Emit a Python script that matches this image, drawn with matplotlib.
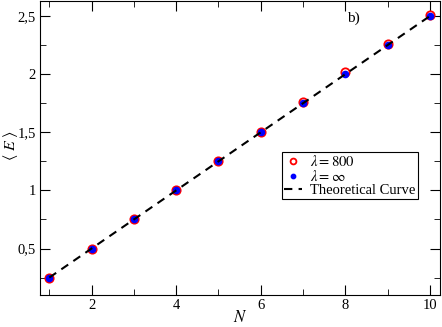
import matplotlib
matplotlib.use("Agg")
import matplotlib.pyplot as plt
import numpy as np
from matplotlib.ticker import MultipleLocator, FuncFormatter

plt.rcParams['font.family'] = ['Liberation Serif', 'DejaVu Serif']
plt.rcParams['mathtext.fontset'] = 'stix'

N = np.arange(1, 11)
E_800 = [0.25, 0.50, 0.75, 1.00, 1.25, 1.50, 1.76, 2.02, 2.26, 2.51]
E_inf = [0.25, 0.50, 0.75, 1.00, 1.25, 1.50, 1.75, 2.00, 2.25, 2.50]
theory = N / 4.0

fig = plt.figure(figsize=(4.42, 3.27), dpi=100)
ax = fig.add_axes([40/442, 1 - 295/327, 400/442, 294/327])

ax.plot(N, E_800, 'o', mfc='none', mec='red', mew=1.3, ms=6, label=r'$\lambda = 800$')
ax.plot(N, E_inf, 'o', color='blue', ms=4.5, label=r'$\lambda = \infty$')
ax.plot(N, theory, '--', color='black', lw=1.5, dashes=(4, 3), label='Theoretical Curve')

ax.set_xlim(0.78, 10.24)
ax.set_ylim(0.10, 2.63)
ax.xaxis.set_major_locator(MultipleLocator(2))
ax.xaxis.set_minor_locator(MultipleLocator(1))
ax.yaxis.set_major_locator(MultipleLocator(0.5))
ax.yaxis.set_minor_locator(MultipleLocator(0.25))
ax.yaxis.set_major_formatter(FuncFormatter(lambda v, p: ('%g' % v).replace('.', ',')))
ax.tick_params(which='both', direction='in', top=True, right=True, labelsize=10.5)
ax.tick_params(which='major', length=7, pad=3)
ax.tick_params(which='minor', length=4)

fig.text(240/442, 1 - 318/327, r'$N$', fontsize=12, ha='center', va='center')
fig.text(10/442, 1 - 145/327, r'$\langle\ E\ \rangle$', fontsize=11.5,
         rotation=90, ha='center', va='center')
ax.text(8.05, 2.45, 'b)', fontsize=11)

leg = ax.legend(loc='lower right', bbox_to_anchor=(0.945, 0.325), fontsize=10.5,
                fancybox=False, edgecolor='black', framealpha=1, markerscale=0.7,
                handlelength=1.2, handletextpad=0.6, borderpad=0.15,
                labelspacing=0.0, borderaxespad=0)
leg.get_frame().set_linewidth(0.8)

fig.savefig('out.png', dpi=100)
